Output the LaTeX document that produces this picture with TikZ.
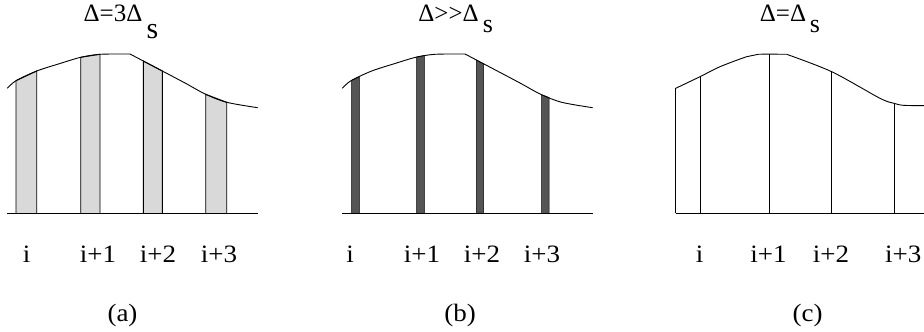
\documentclass[tikz,border=0pt]{standalone}
\usepackage{fontspec}
\setmainfont{Liberation Serif}[Ligatures=NoCommon]
\definecolor{lightbar}{HTML}{D9D9D9}
\definecolor{darkbar}{HTML}{555555}
\begin{document}
\begin{tikzpicture}[x=1pt,y=-1pt,
  lbl/.style={anchor=base,inner sep=0pt,xscale=1.08,font=\fontsize{25}{29}\selectfont},
  ttl/.style={anchor=base,inner sep=0pt,font=\fontsize{25}{29}\selectfont},
  sub/.style={anchor=base,inner sep=0pt},
  curve/.style={line width=0.9pt,line join=round},
  edge/.style={line width=0.9pt},
  lbar/.style={fill=lightbar,draw=black,line width=0.9pt},
  dbar/.style={fill=darkbar,draw=black,line width=0.5pt}]
\useasboundingbox (0,0) rectangle (924,332);
% ---------- panel (a) ----------
\begin{scope}
\filldraw[lbar] (16,213.3) -- (16,80.7) -- (36.7,71) -- (36.7,213.3);
\filldraw[lbar] (80.7,213.3) -- (80.7,57.3) -- (100,54.3) -- (100,213.3);
\filldraw[lbar] (143.3,213.3) -- (143.3,61) -- (162.3,71) -- (162.3,213.3);
\filldraw[lbar] (205.7,213.3) -- (205.7,94.3) -- (226.7,102.3) -- (226.7,213.3);
\draw[curve] plot[smooth,tension=0.5] coordinates {(7.3,88.3) (16,80.7) (36.7,71) (60,63.5) (80.7,57.3) (100,54.3) (130,54)};
\draw[curve] plot[smooth,tension=0.5] coordinates {(130,54) (143.3,61) (162.3,71) (185,83) (205.7,94.3) (226.7,102.3) (257.7,107.7)};
\draw[edge] (7.3,213.3) -- (257.7,213.3);
\end{scope}
% ---------- panel (b) ----------
\begin{scope}[xshift=335pt]
\filldraw[dbar] (16.7,213.3) -- (16.7,80.3) -- (24.3,77) -- (24.3,213.3);
\filldraw[dbar] (81.7,213.3) -- (81.7,57) -- (89.3,55.5) -- (89.3,213.3);
\filldraw[dbar] (141.3,213.3) -- (141.3,60) -- (148.7,64) -- (148.7,213.3);
\filldraw[dbar] (206.7,213.3) -- (206.7,94.7) -- (214,97.5) -- (214,213.3);
\draw[curve] plot[smooth,tension=0.5] coordinates {(7.3,88.3) (16,80.7) (36.7,71) (60,63.5) (80.7,57.3) (100,54.3) (130,54)};
\draw[curve] plot[smooth,tension=0.5] coordinates {(130,54) (143.3,61) (162.3,71) (185,83) (205.7,94.3) (226.7,102.3) (257.7,107.7)};
\draw[edge] (7.3,213.3) -- (257.7,213.3);
\end{scope}
% ---------- panel (c) ----------
\draw[curve] plot[smooth,tension=0.5] coordinates {(675.7,88.3) (700,76.7) (720,66.7) (746.7,56.7) (758.3,54.3) (786.7,54.3)};
\draw[curve] plot[smooth,tension=0.5] coordinates {(786.7,54.3) (831.7,71.7) (880,98.3) (894,103.3) (903.3,105.3) (924,105.7)};
\draw[edge] (675.7,88.3) -- (675.7,213.3);
\draw[edge] (700,76.7) -- (700,213.3);
\draw[edge] (769.3,54.3) -- (769.3,213.3);
\draw[edge] (831.7,71.7) -- (831.7,213.3);
\draw[edge] (894,103.3) -- (894,213.3);
\draw[edge] (675.7,213.3) -- (924,213.3);
% ---------- titles ----------
\node[ttl] (ta) at (113,21.7) {Δ=3Δ};
\node[sub,font=\fontsize{30}{34}\selectfont] (tas) at (152.5,38) {s};
\node[ttl] (tb) at (448.5,21.7) {Δ{>}{>}Δ};
\node[sub,font=\fontsize{26}{30}\selectfont] (tbs) at (488,32) {s};
\node[ttl] (tc) at (783,21.7) {Δ=Δ};
\node[sub,font=\fontsize{26}{30}\selectfont] (tcs) at (815,32) {s};
% ---------- index labels ----------
\node[lbl] (a0) at (26.7,262.3) {i};
\node[lbl] (a1) at (98,262.3) {i+1};
\node[lbl] (a2) at (158,262.3) {i+2};
\node[lbl] (a3) at (219,262.3) {i+3};
\node[lbl] (b0) at (350,262.3) {i};
\node[lbl] (b1) at (422,262.3) {i+1};
\node[lbl] (b2) at (482,262.3) {i+2};
\node[lbl] (b3) at (542,262.3) {i+3};
\node[lbl] (c0) at (699.5,262.3) {i};
\node[lbl] (c1) at (768.5,262.3) {i+1};
\node[lbl] (c2) at (831,262.3) {i+2};
\node[lbl,anchor=base west] (c3) at (885,262.3) {i+3};
% ---------- captions ----------
\node[lbl] (ca) at (122.5,321.7) {(a)};
\node[lbl] (cb) at (460,321.7) {(b)};
\node[lbl] (cc) at (807.5,321.7) {(c)};
\end{tikzpicture}
\end{document}
